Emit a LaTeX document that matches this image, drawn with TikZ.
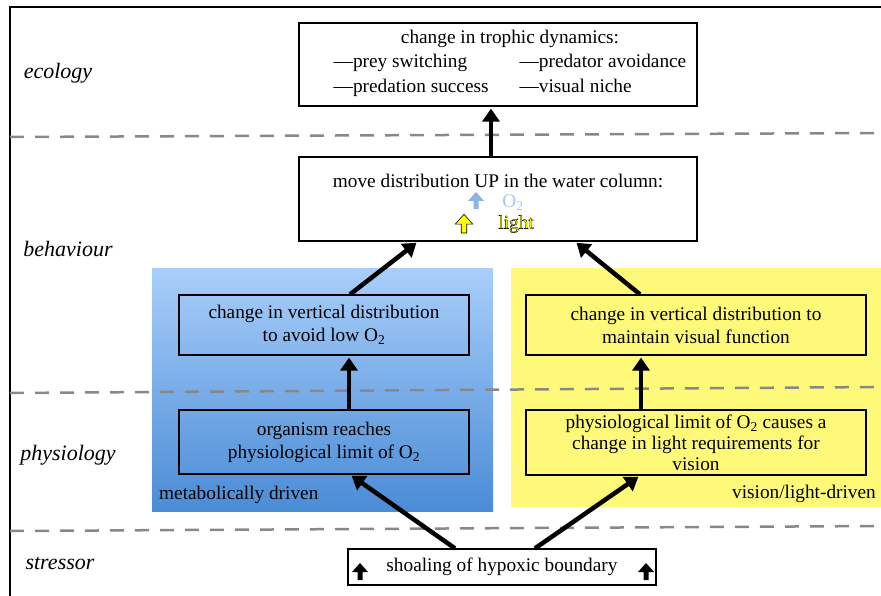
\documentclass[tikz,border=0pt]{standalone}
\usepackage{fontspec}
\setmainfont{Liberation Serif}
\usetikzlibrary{positioning, arrows.meta, calc}

\definecolor{paneltop}{HTML}{A9CEFA}
\definecolor{panelbot}{HTML}{4A8CD6}
\definecolor{panelyel}{HTML}{FFF97A}
\definecolor{oxyblue}{HTML}{8DB3E2}
\definecolor{oxytext}{HTML}{A4C8F0}
\definecolor{lightyel}{HTML}{FFFF00}
\definecolor{dashgray}{HTML}{888888}

\newcommand{\outlined}[1]{\special{pdf:literal 0 0 0 RG 0.35 w 2 Tr}#1\special{pdf:literal 0 Tr}}

\begin{document}
\begin{tikzpicture}[
    x=1pt, y=-1pt,
    box/.style={rectangle, draw=black, line width=1.2pt, inner sep=0pt,
                font=\fontsize{19.3}{23}\selectfont, align=center},
    txt/.style={inner sep=0pt, font=\fontsize{19.3}{25}\selectfont, align=center},
    layer/.style={inner sep=0pt, font=\fontsize{22}{25}\selectfont\itshape},
    arrow/.style={-{Triangle[length=13pt, width=17pt]}, line width=4.5pt, shorten >=2pt},
    divider/.style={dashgray, line width=2.5pt, dash pattern=on 14pt off 11pt},
    blockup/.pic={\path[pic actions] (-2.5,0) -- (-2.5,-8) -- (-8,-8) -- (0,-17)
                  -- (8,-8) -- (2.5,-8) -- (2.5,0) -- cycle;}
]
    \useasboundingbox (0,0) rectangle (881,596);

    % Frame
    \draw[line width=1.8pt] (10,596) -- (10,7) -- (881,7);

    % Panels
    \shade[top color=paneltop, bottom color=panelbot] (152,268) rectangle (493,511);
    \fill[panelyel] (511,268) rectangle (881,507);
    \node[txt, anchor=west] (metab) at (159,495) {metabolically driven};
    \node[txt, anchor=east] (vislight) at (876,494) {vision/light-driven};

    % Level dividers
    \draw[divider] (10,137) -- (881,133);
    \draw[divider] (10,393) -- (881,387);
    \draw[divider] (10,531) -- (881,526);

    % Level labels
    \node[layer] (ecology) at (58,73) {ecology};
    \node[layer] (behaviour) at (68,249) {behaviour};
    \node[layer] (physiology) at (68,455) {physiology};
    \node[layer] (stressor) at (60,563) {stressor};

    % Ecology
    \node[box, minimum width=398pt, minimum height=83pt] (trophic) at (498,64.5) {};
    \node[txt] (trophictxt) at (510,63) {%
        \begin{tabular}{@{}l@{\hspace{31pt}}l@{}}
        \multicolumn{2}{c}{change in trophic dynamics:}\\[-1pt]
        ---prey switching & ---predator avoidance\\
        ---predation success & ---visual niche
        \end{tabular}};

    % Behaviour
    \node[box, minimum width=398pt, minimum height=84pt] (move) at (498,199) {};
    \node[txt] (movetxt) at (498,181) {move distribution UP in the water column:};
    \pic[fill=oxyblue] at (476,209) {blockup};
    \node[txt, text=oxytext] (oxy) at (513,203) {O\textsubscript{2}};
    \pic[fill=lightyel, draw=black, line width=0.6pt, scale=1.1] at (464,233) {blockup};
    \node[txt, text=lightyel] (light) at (516,224) {\outlined{light}};

    \node[box, minimum width=290pt, minimum height=60pt] (blueup) at (324,325)
        {change in vertical distribution\\to avoid low O\textsubscript{2}};
    \node[box, minimum width=340pt, minimum height=60pt] (yelup) at (696,325)
        {change in vertical distribution to\\maintain visual function};

    % Physiology
    \node[box, minimum width=290pt, minimum height=64pt] (bluelow) at (324,442)
        {organism reaches\\physiological limit of O\textsubscript{2}};
    \node[box, minimum width=340pt, minimum height=65pt,
          font=\fontsize{19.3}{21}\selectfont] (yellow) at (696,442.5)
        {physiological limit of O\textsubscript{2} causes a\\change in light requirements for\\vision};

    % Stressor
    \node[box, fill=white, minimum width=308pt, minimum height=36pt] (shoal) at (502,567)
        {shoaling of hypoxic boundary};
    \pic[fill=black] at (360,580) {blockup};
    \pic[fill=black] at (646,580) {blockup};

    % Arrows
    \draw[arrow] ([xshift=-7pt]move.north) -- ([xshift=-7pt]trophic.south);
    \draw[arrow] ([xshift=26pt]blueup.north) -- ([xshift=-80pt]move.south);
    \draw[arrow] ([xshift=-56pt]yelup.north) -- ([xshift=77pt]move.south);
    \draw[arrow] ([xshift=25pt]bluelow.north) -- ([xshift=25pt]blueup.south);
    \draw[arrow] ([xshift=-55pt]yellow.north) -- ([xshift=-55pt]yelup.south);
    \draw[arrow] ([xshift=-47pt]shoal.north) -- ([xshift=26pt]bluelow.south);
    \draw[arrow] ([xshift=33pt]shoal.north) -- ([xshift=-56pt]yellow.south);

\end{tikzpicture}
\end{document}
